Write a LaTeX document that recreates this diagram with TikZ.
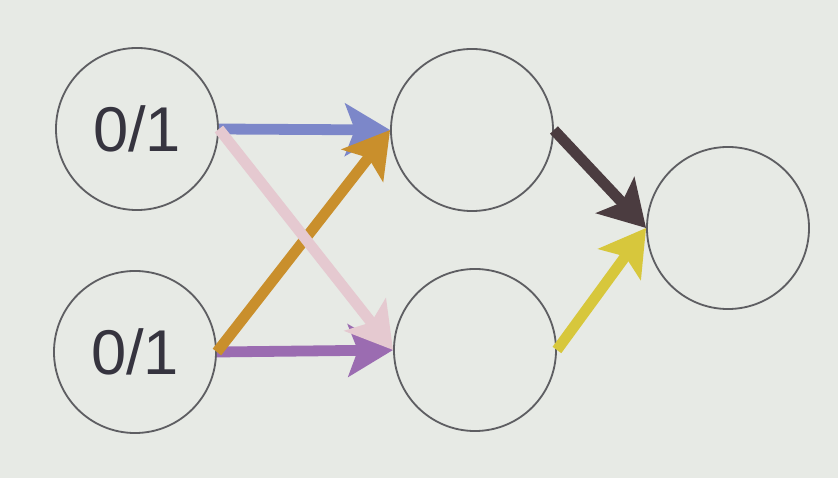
\documentclass[tikz,border=0pt]{standalone}
\usepackage{fontspec}
\setmainfont{Liberation Sans}
\usetikzlibrary{arrows.meta}
\definecolor{slidebg}{HTML}{E7EAE5}
\definecolor{ringgray}{HTML}{5E5E62}
\definecolor{textdark}{HTML}{36343F}
\definecolor{wblue}{HTML}{7C87C9}
\definecolor{wpink}{HTML}{E5C9D0}
\definecolor{worange}{HTML}{C98F2C}
\definecolor{wpurple}{HTML}{9B6CB1}
\definecolor{wdark}{HTML}{4B3C40}
\definecolor{wyellow}{HTML}{D7C73C}

\begin{document}
\begin{tikzpicture}[x=0.025cm,y=-0.025cm,
    neuron/.style={circle,draw=ringgray,line width=1.3pt,minimum size=4.05cm,inner sep=0pt,
      text=textdark,font=\fontsize{45}{50}\selectfont},
    weight/.style={line width=0.27cm,-{Stealth[length=1.12cm,width=1.3cm,inset=0.24cm]}}]
\fill[slidebg] (0,0) rectangle (838,478);
\useasboundingbox (0,0) rectangle (838,478);
\node[neuron] (in1) at (137,129) {0/1};
\node[neuron] (in2) at (135,352) {0/1};
\node[neuron] (h1) at (472,130) {};
\node[neuron] (h2) at (475,350) {};
\node[neuron] (out) at (728,228) {};
\draw[weight,wblue] (in1.east) -- (h1.west);
\draw[weight,wpurple] (in2.east) -- (h2.west);
\draw[weight,worange] (in2.east) -- (h1.west);
\draw[weight,wpink] (in1.east) -- (h2.west);
\draw[weight,wdark] (h1.east) -- (out.west);
\draw[weight,wyellow] (h2.east) -- (out.west);
\end{tikzpicture}
\end{document}
